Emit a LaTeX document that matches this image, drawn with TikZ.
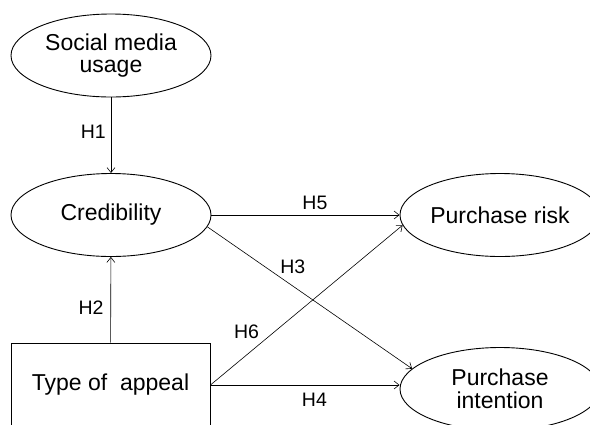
\documentclass[tikz,border=0pt]{standalone}
\usepackage{fontspec}
\setmainfont{Liberation Sans}
\usetikzlibrary{shapes.geometric,arrows.meta}
\tikzset{
  construct/.style={ellipse, draw, line width=0.9pt, minimum width=200pt, minimum height=83pt, inner sep=0pt, align=center, font=\fontsize{23}{22.5}\selectfont},
  factorbox/.style={rectangle, draw, line width=0.9pt, minimum width=199pt, minimum height=84pt, inner sep=0pt, font=\fontsize{23}{23}\selectfont},
  path/.style={->, line width=0.6pt},
  hyp/.style={inner sep=2pt, font=\fontsize{19.5}{19.5}\selectfont}
}
\begin{document}
\begin{tikzpicture}[x=1pt, y=-1pt, >={Straight Barb[length=5pt,width=8pt]}]
			\useasboundingbox (0,0) rectangle (590,424);
			% constructs
			\node[construct] (social) at (111,55.5) {Social media\\usage};
			\node[construct] (cred) at (111,215) {Credibility};
			\node[factorbox] (appeal) at (110.5,385) {Type of\ \ appeal};
			\node[construct] (risk) at (500,215) {Purchase risk};
			\node[construct] (intent) at (500,389) {Purchase\\intention};
			% hypotheses
			\draw[path] (social) -- (cred) node[hyp, left=3pt, pos=0.45] {H1};
			\draw[path] (appeal) -- (cred) node[hyp, left=5pt, pos=0.41] {H2};
			\draw[path] (cred.east) -- (risk.west) node[hyp, above=3pt, pos=0.55] {H5};
			\draw[path] (cred.-7) -- (intent.167) node[hyp, above right, pos=0.345] {H3};
			\draw[path] (appeal.east) -- (risk.186) node[hyp, above left=1pt, pos=0.27] {H6};
			\draw[path] (appeal.east) -- (intent.west |- appeal.east) node[hyp, below=6pt, pos=0.55] {H4};
		\end{tikzpicture}
\end{document}
